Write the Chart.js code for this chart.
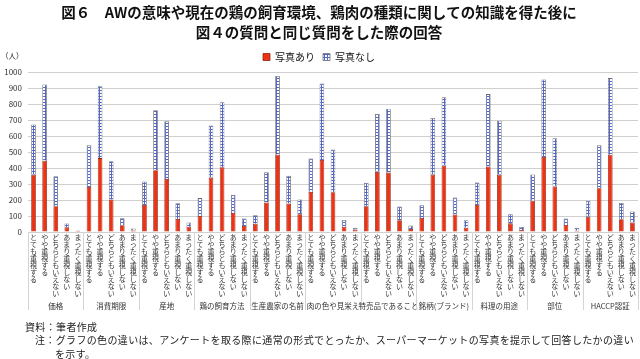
<!DOCTYPE html>
<html>
<head>
<meta charset="utf-8">
<script src="https://cdn.jsdelivr.net/npm/chart.js@4.4.1/dist/chart.umd.min.js"></script>
<style>
  body { margin: 0; background: #fff; }
  #wrap { position: relative; width: 640px; height: 359px; font-family: "Noto Sans CJK JP", sans-serif; color: #222; }
  #chart { position: absolute; left: 0; top: 0; }
  .txt { position: absolute; white-space: nowrap; line-height: 14px; font-size: 10px; letter-spacing: 0.35px; }
</style>
</head>
<body>
<div id="wrap">
  <canvas id="chart" width="640" height="359"></canvas>
  <div class="txt" style="left:1px;top:49px;font-size:7.5px;letter-spacing:0">（人）</div>
  <div class="txt" style="left:25px;top:320px">資料：筆者作成</div>
  <div class="txt" style="left:35px;top:333px">注：グラフの色の違いは、アンケートを取る際に通常の形式でとったか、スーパーマーケットの写真を提示して回答したかの違い</div>
  <div class="txt" style="left:55px;top:347px">を示す。</div>
</div>
<script>
// 質問項目（グループ）と回答区分
const groups = ['価格', '消費期限', '産地', '鶏の飼育方法', '生産農家の名前', '肉の色や見栄え',
    '特売品であること', '銘柄(ブランド)', '料理の用途', '部位', 'HACCP認証'];
const answers = ['とても重視する', 'やや重視する', 'どちらともいえない', 'あまり重視しない', 'まったく重視しない'];

// 写真あり（人）
const withPhoto = [
    358, 446, 161, 29, 6,
    282, 462, 203, 42, 10,
    169, 386, 331, 82, 33,
    100, 340, 404, 119, 38,
    52, 184, 483, 178, 111,
    251, 450, 249, 33, 15,
    161, 376, 372, 73, 19,
    88, 358, 414, 109, 27,
    169, 410, 358, 54, 13,
    195, 469, 284, 44, 8,
    96, 274, 483, 80, 59
];
// 写真なし（人）
const withoutPhoto = [
    314, 476, 187, 24, 3,
    260, 452, 239, 44, 12,
    147, 375, 361, 98, 26,
    112, 326, 407, 113, 46,
    53, 190, 492, 173, 92,
    209, 479, 267, 42, 12,
    147, 362, 398, 86, 21,
    79, 355, 429, 106, 46,
    141, 452, 337, 57, 18,
    165, 485, 302, 40, 17,
    99, 268, 479, 102, 69
];
const yTicks = { min: 0, max: 1000, step: 100 };

const labels = groups.flatMap(() => answers);

// 写真なし用の格子模様
function gridPattern() {
    const c = document.createElement('canvas');
    c.width = 3; c.height = 3;
    const g = c.getContext('2d');
    g.fillStyle = '#ffffff';
    g.fillRect(0, 0, 3, 3);
    g.fillStyle = '#5267c9';
    g.fillRect(0, 0, 3, 1);
    g.fillRect(0, 0, 1, 3);
    return g.createPattern(c, 'repeat');
}

// グループ名と区切り線
const groupLabels = {
    id: 'groupLabels',
    afterDraw(chart) {
        const { ctx, chartArea, scales: { x } } = chart;
        const half = (x.getPixelForValue(1) - x.getPixelForValue(0)) / 2;
        const top = chartArea.bottom;
        const bottom = chartArea.bottom + 78;
        ctx.save();
        ctx.strokeStyle = '#d4d4d4';
        ctx.lineWidth = 1;
        ctx.fillStyle = '#333';
        ctx.font = '7.5px "Noto Sans CJK JP"';
        ctx.textAlign = 'center';
        ctx.textBaseline = 'middle';
        groups.forEach((g, i) => {
            const first = x.getPixelForValue(i * 5);
            const last = x.getPixelForValue(i * 5 + 4);
            const edges = [first - half];
            if (i === groups.length - 1) edges.push(last + half);
            edges.forEach(ex => {
                ctx.beginPath();
                ctx.moveTo(Math.round(ex) + 0.5, top);
                ctx.lineTo(Math.round(ex) + 0.5, bottom);
                ctx.stroke();
            });
            ctx.fillText(g, (first + last) / 2, chartArea.bottom + 74);
        });
        ctx.restore();
    }
};

Chart.defaults.font.family = '"Noto Sans CJK JP", sans-serif';
Chart.defaults.color = '#333';

new Chart(document.getElementById('chart').getContext('2d'), {
    type: 'bar',
    data: {
        labels: labels,
        datasets: [{
            label: '写真あり',
            data: withPhoto,
            backgroundColor: '#ee3214',
            borderColor: '#8c2414',
            borderWidth: 0.8
        }, {
            label: '写真なし',
            data: withoutPhoto,
            backgroundColor: gridPattern(),
            borderColor: '#6e6e6e',
            borderWidth: 0.8
        }]
    },
    options: {
        responsive: false,
        animation: false,
        layout: { padding: { top: 2, left: 0, right: 2, bottom: 47 } },
        datasets: { bar: { barPercentage: 0.42, categoryPercentage: 1 } },
        plugins: {
            title: {
                display: true,
                text: ['図６　AWの意味や現在の鶏の飼育環境、鶏肉の種類に関しての知識を得た後に',
                       '図４の質問と同じ質問をした際の回答'],
                font: { size: 14.5, weight: 'bold', lineHeight: 1.38 },
                color: '#111',
                padding: { top: 0, bottom: 2 }
            },
            legend: {
                position: 'top',
                labels: {
                    boxWidth: 7,
                    boxHeight: 7,
                    padding: 8,
                    font: { size: 10 },
                    color: '#111'
                }
            },
            tooltip: { enabled: false }
        },
        scales: {
            x: {
                stacked: true,
                grid: { display: false, drawTicks: false },
                border: { display: false },
                ticks: {
                    autoSkip: false,
                    maxRotation: 0,
                    minRotation: 0,
                    padding: 2,
                    font: { size: 7, lineHeight: 1 },
                    color: '#333',
                    callback: (v, i) => answers[i % answers.length].split('')
                },
                afterFit: s => { s.height = 80; }
            },
            y: {
                stacked: true,
                min: yTicks.min,
                max: yTicks.max,
                grid: { color: '#cfcfcf', lineWidth: 1, drawTicks: false },
                border: { display: false },
                ticks: {
                    stepSize: yTicks.step,
                    padding: 6,
                    font: { size: 8 },
                    color: '#333',
                    callback: v => String(v)
                },
                afterFit: s => { s.width = 28; }
            }
        }
    },
    plugins: [groupLabels]
});
</script>
</body>
</html>
